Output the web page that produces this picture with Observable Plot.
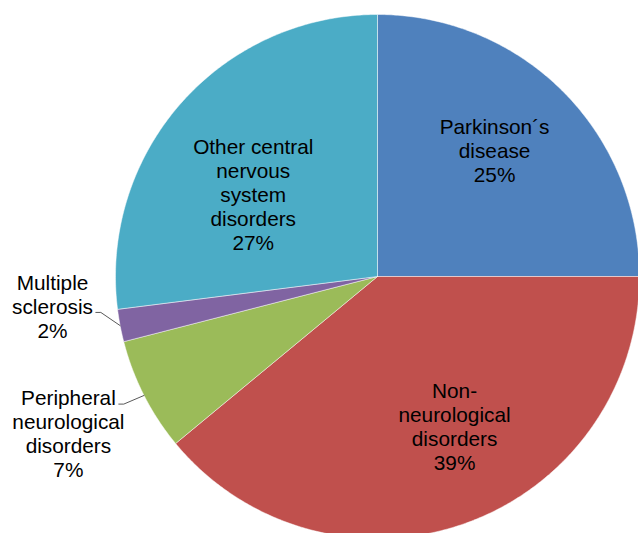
<!DOCTYPE html>
<html>
<head>
<meta charset="utf-8">
<script src="https://cdn.jsdelivr.net/npm/d3@7"></script>
<script src="https://cdn.jsdelivr.net/npm/@observablehq/plot@0.6"></script>
<style>
  html, body { margin: 0; padding: 0; background: #fff; }
  #chart svg { display: block; }
</style>
</head>
<body>
<div id="chart"></div>
<script>
// ---- data ----
const categories = ["Parkinson´s disease", "Non-neurological disorders", "Peripheral neurological disorders", "Multiple sclerosis", "Other central nervous system disorders"];
const shares = [25, 39, 7, 2, 27];
const labelText = ["Parkinson´s\ndisease", "Non-\nneurological\ndisorders", "Peripheral\nneurological\ndisorders", "Multiple\nsclerosis", "Other central\nnervous\nsystem\ndisorders"];
const colors = ["#4F81BD", "#C0504D", "#9BBB59", "#8064A2", "#4BACC6"];

// ---- layout ----
const W = 638, H = 533;
const cx = 377, cy = 276, R = 262;
// label placement in polar offsets from pie centre (px, degrees clockwise from 12 o'clock)
const labelPolar = [
  {r: 172, deg: 42.9},
  {r: 168.6, deg: 152.8},
  {r: 346.6, deg: 243.1},
  {r: 326.4, deg: 264.7},
  {r: 149, deg: 303.5}
];
// leader elbows for outside labels (index -> polar offset)
const leaderElbow = {2: {r: 284, deg: 243.3}, 3: {r: 279, deg: 262.6}};

const polar = (r, a) => [cx + r * Math.sin(a), cy - r * Math.cos(a)];
const rad = d => d * Math.PI / 180;

const arcs = d3.pie().sort(null).value(d => d.value)(categories.map((c, i) => ({cat: c, value: shares[i], i})));

const slicePts = [];
arcs.forEach(a => {
  const id = a.data.cat;
  slicePts.push({x: cx, y: cy, cat: id});
  const n = Math.max(4, Math.ceil((a.endAngle - a.startAngle) / rad(0.5)));
  for (let k = 0; k <= n; k++) {
    const t = a.startAngle + (a.endAngle - a.startAngle) * k / n;
    const [x, y] = polar(R, t);
    slicePts.push({x, y, cat: id});
  }
  slicePts.push({x: cx, y: cy, cat: id});
});

const labels = arcs.map((a, i) => {
  const [x, y] = polar(labelPolar[i].r, rad(labelPolar[i].deg));
  return {x, y, text: labelText[i] + "\n" + shares[i] + "%"};
});

const leaders = [];
Object.entries(leaderElbow).forEach(([i, e]) => {
  const a = arcs[+i];
  const mid = (a.startAngle + a.endAngle) / 2;
  const [x0, y0] = polar(R, mid);
  const [x1, y1] = polar(e.r, rad(e.deg));
  leaders.push({x: x0, y: y0, g: i}, {x: x1, y: y1, g: i}, {x: x1 - 5, y: y1, g: i});
});

const chart = Plot.plot({
  width: W,
  height: H,
  margin: 0,
  x: {domain: [0, W], range: [0, W], axis: null},
  y: {domain: [0, H], range: [0, H], axis: null},
  color: {domain: categories, range: colors},
  style: {fontFamily: "'Liberation Sans', Arial, sans-serif", background: "#fff"},
  marks: [
    Plot.line(slicePts, {x: "x", y: "y", z: "cat", fill: "cat", stroke: "#ffffff", strokeWidth: 0.8, strokeOpacity: 0.6, curve: "linear-closed"}),
    Plot.line(leaders, {x: "x", y: "y", z: "g", stroke: "#595959", strokeWidth: 1}),
    Plot.text(labels, {x: "x", y: "y", text: "text", fontSize: 20.8, lineHeight: 1.154, fill: "#000", textAnchor: "middle", lineAnchor: "middle"})
  ]
});
document.getElementById("chart").appendChild(chart);
</script>
</body>
</html>
